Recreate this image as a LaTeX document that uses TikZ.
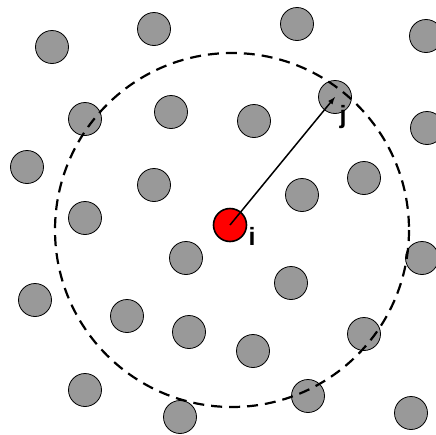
\documentclass[tikz,border=0pt]{standalone}
\usepackage{fontspec}
\setmainfont{Liberation Sans}
\usepackage{tikz}
\definecolor{grain}{HTML}{999999}

\begin{document}
\begin{tikzpicture}[x=1pt, y=-1pt,
    particle/.style={circle, draw, line width=0.8pt, fill=grain, minimum size=33pt, inner sep=0pt},
    centre/.style={circle, draw, line width=1.6pt, fill=red, minimum size=33pt, inner sep=0pt},
    lbl/.style={font=\fontsize{25}{25}\selectfont\bfseries, inner sep=0pt}]
    \useasboundingbox (0,0) rectangle (436,434);

    % Draw nodes
    \node[particle] (1) at (52,47) {};
    \node[particle] (2) at (154,29) {};
    \node[particle] (3) at (297,24) {};
    \node[particle] (4) at (426,36) {};
    \node[particle] (5) at (85,119) {};
    \node[particle] (6) at (171,112) {};
    \node[particle] (7) at (254,121) {};
    \node[particle] (j) at (335,97) {};
    \node[particle] (8) at (427,128) {};
    \node[particle] (9) at (27,167) {};
    \node[particle] (10) at (154,185) {};
    \node[particle] (11) at (364,178) {};
    \node[particle] (12) at (302,195) {};
    \node[particle] (13) at (85,218) {};
    \node[particle] (14) at (186,258) {};
    \node[particle] (15) at (422,258) {};
    \node[particle] (16) at (291,283) {};
    \node[particle] (17) at (35,300) {};
    \node[particle] (18) at (127,316) {};
    \node[particle] (19) at (189,332) {};
    \node[particle] (20) at (364,334) {};
    \node[particle] (21) at (253,351) {};
    \node[particle] (22) at (85,390) {};
    \node[particle] (23) at (180,417) {};
    \node[particle] (24) at (308,396) {};
    \node[particle] (25) at (411,413) {};
    \node[centre] (i) at (230,225) {};

    % Cut-off radius
    \coordinate (c) at (232,230);
    \draw[line width=2.2pt, dash pattern=on 11pt off 7pt] (c) circle (177);

    % Draw connections
    \draw[-latex, line width=1.5pt] (i.center) -- (j.center);

    % Labels
    \node[lbl] (ilbl) at (252,236) {i};
    \node[lbl] (jlbl) at (343,117) {j};
\end{tikzpicture}
\end{document}
